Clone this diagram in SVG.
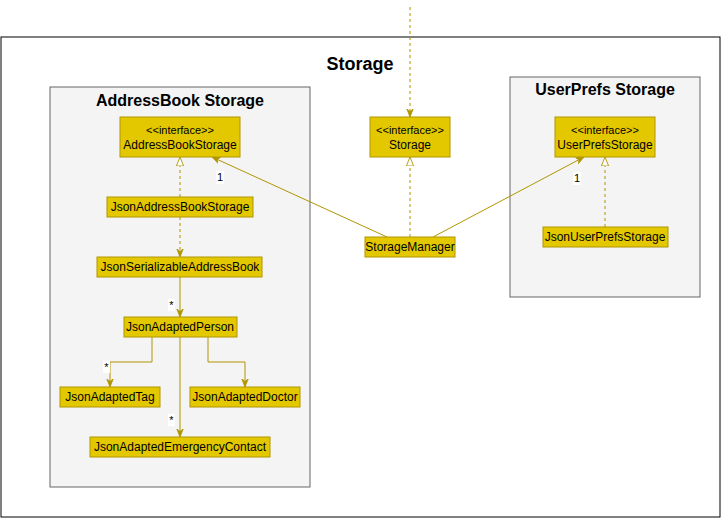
<svg xmlns="http://www.w3.org/2000/svg" width="721" height="518" viewBox="0 0 721 518">
<style>
.frame{fill:#ffffff;stroke:#000000;stroke-width:1}
.pkg{fill:#f4f4f4;stroke:#666666;stroke-width:1}
.node{fill:#e3c800;stroke:#b09500;stroke-width:1}
.t{font-family:"Liberation Sans",Arial,sans-serif;font-size:12px;fill:#000000;text-anchor:middle}
.ts{font-family:"Liberation Sans",Arial,sans-serif;font-size:11px;fill:#000000;text-anchor:middle}
.title{font-family:"Liberation Sans",Arial,sans-serif;font-weight:bold;font-size:16px;fill:#000000;text-anchor:middle}
.big{font-family:"Liberation Sans",Arial,sans-serif;font-weight:bold;font-size:18px;fill:#000000;text-anchor:middle}
.e{fill:none;stroke:#b09500;stroke-width:1}
.d{stroke-dasharray:3 3}
.lbl{font-family:"Liberation Sans",Arial,sans-serif;font-size:11px;fill:#000000;text-anchor:middle}
.lb{fill:#ffffff}
</style>
<defs>
<marker id="arr" viewBox="0 0 10 10" refX="10" refY="5" markerWidth="8" markerHeight="8" markerUnits="userSpaceOnUse" orient="auto">
<path d="M0,1 L10,5 L0,9 L3,5 Z" fill="#b09500" stroke="#b09500" stroke-width="1" stroke-dasharray="none"/>
</marker>
<marker id="tri" viewBox="0 0 10 10" refX="10" refY="5" markerWidth="9" markerHeight="9" markerUnits="userSpaceOnUse" orient="auto">
<path d="M0,1 L10,5 L0,9 Z" fill="#ffffff" stroke="#b09500" stroke-width="1" stroke-dasharray="none"/>
</marker>
</defs>
<rect x="1" y="37" width="719" height="480" class="frame"/>
<text x="360" y="70" class="big">Storage</text>
<g id="addressbook-pkg">
<rect x="50" y="87" width="260" height="400" class="pkg"/>
<text x="180" y="106" class="title">AddressBook Storage</text>
</g>
<g id="userprefs-pkg">
<rect x="510" y="77" width="190" height="220" class="pkg"/>
<text x="605" y="95" class="title">UserPrefs Storage</text>
</g>
<g id="connectors">
<path d="M410,7 L410,117" class="e d" marker-end="url(#arr)"/>
<path d="M410,237 L410,157" class="e d" marker-end="url(#tri)"/>
<path d="M387,237 L212,157" class="e" marker-end="url(#arr)"/>
<path d="M433,237 L584,157" class="e" marker-end="url(#arr)"/>
<path d="M605,227 L605,157" class="e d" marker-end="url(#tri)"/>
<path d="M180,197 L180,157" class="e d" marker-end="url(#tri)"/>
<path d="M180,217 L180,257" class="e d" marker-end="url(#arr)"/>
<path d="M180,277 L180,317" class="e" marker-end="url(#arr)"/>
<path d="M152,337 L152,362 L110,362 L110,387" class="e" marker-end="url(#arr)"/>
<path d="M208,337 L208,362 L245,362 L245,387" class="e" marker-end="url(#arr)"/>
<path d="M180,337 L180,437" class="e" marker-end="url(#arr)"/>
<rect x="216" y="171" width="8" height="13" class="lb"/>
<text x="220" y="181" class="lbl">1</text>
<rect x="573" y="172" width="8" height="13" class="lb"/>
<text x="577" y="182" class="lbl">1</text>
<rect x="168" y="299" width="7" height="12" class="lb"/>
<text x="171.5" y="309" class="lbl">*</text>
<rect x="103" y="361" width="7" height="12" class="lb"/>
<text x="106.5" y="371" class="lbl">*</text>
<rect x="168" y="414" width="7" height="12" class="lb"/>
<text x="171.5" y="424" class="lbl">*</text>
</g>
<g id="storage">
<rect x="370" y="117" width="80" height="40" class="node"/>
<text x="410" y="134" class="ts">&lt;&lt;interface&gt;&gt;</text>
<text x="410" y="149" class="t">Storage</text>
</g>
<g id="storage-manager">
<rect x="365" y="237" width="90" height="20" class="node"/>
<text x="410" y="251" class="t">StorageManager</text>
</g>
<g id="addressbook-storage">
<rect x="120" y="117" width="120" height="40" class="node"/>
<text x="180" y="134" class="ts">&lt;&lt;interface&gt;&gt;</text>
<text x="180" y="149" class="t">AddressBookStorage</text>
</g>
<g id="json-addressbook-storage">
<rect x="107" y="197" width="146" height="20" class="node"/>
<text x="180" y="211" class="t">JsonAddressBookStorage</text>
</g>
<g id="json-serializable-addressbook">
<rect x="97" y="257" width="165" height="20" class="node"/>
<text x="180" y="271" class="t">JsonSerializableAddressBook</text>
</g>
<g id="json-adapted-person">
<rect x="124" y="317" width="113" height="20" class="node"/>
<text x="180" y="331" class="t">JsonAdaptedPerson</text>
</g>
<g id="json-adapted-tag">
<rect x="60" y="387" width="100" height="20" class="node"/>
<text x="110" y="401" class="t">JsonAdaptedTag</text>
</g>
<g id="json-adapted-doctor">
<rect x="190" y="387" width="110" height="20" class="node"/>
<text x="245" y="401" class="t">JsonAdaptedDoctor</text>
</g>
<g id="json-adapted-emergency-contact">
<rect x="90" y="437" width="180" height="20" class="node"/>
<text x="180" y="451" class="t">JsonAdaptedEmergencyContact</text>
</g>
<g id="userprefs-storage">
<rect x="555" y="117" width="100" height="40" class="node"/>
<text x="605" y="134" class="ts">&lt;&lt;interface&gt;&gt;</text>
<text x="605" y="149" class="t">UserPrefsStorage</text>
</g>
<g id="json-userprefs-storage">
<rect x="543" y="227" width="125" height="20" class="node"/>
<text x="605" y="241" class="t">JsonUserPrefsStorage</text>
</g>
</svg>
